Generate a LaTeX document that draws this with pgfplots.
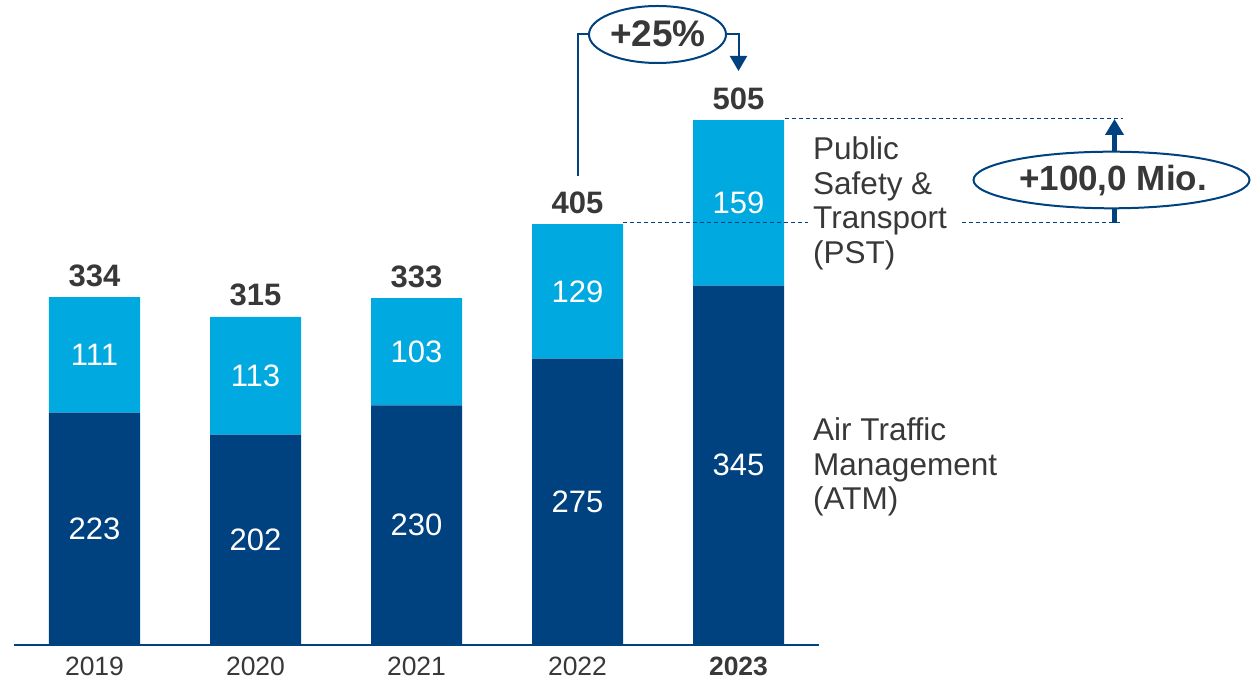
\documentclass[border=0pt]{standalone}
\usepackage{pgfplots}
\pgfplotsset{compat=1.18}
\usepackage{fontspec}
\setmainfont{Liberation Sans}
\usetikzlibrary{arrows.meta}
\definecolor{atm}{RGB}{0,65,128}
\definecolor{pst}{RGB}{0,169,224}
\definecolor{txt}{RGB}{56,56,56}
\newcommand{\fs}[1]{\fontsize{#1}{#1}\selectfont}
\begin{document}
\begin{tikzpicture}
\begin{axis}[
  at={(14pt,35pt)}, anchor=south west,
  scale only axis, width=805pt, height=645pt,
  xmin=-0.5, xmax=4.5, ymin=0, ymax=619.25,
  ybar stacked, bar width=91pt,
  hide y axis, axis x line*=bottom,
  x axis line style={draw=atm, line width=1.5pt, -},
  xtick={0,1,2,3,4}, xticklabels={2019,2020,2021,2022,\textbf{2023}},
  major tick length=0pt,
  xticklabel style={anchor=base, yshift=-31pt, font=\fs{26.5}, text=txt},
  clip=false,
]
\addplot[fill=atm, draw=none] coordinates {(0,223) (1,202) (2,230) (3,275) (4,345)};
\addplot[fill=pst, draw=none] coordinates {(0,111) (1,113) (2,103) (3,129) (4,159)};
% segment value positions
\coordinate (a0) at (axis cs:0,111.5);
\coordinate (a1) at (axis cs:1,101);
\coordinate (a2) at (axis cs:2,115);
\coordinate (a3) at (axis cs:3,137.5);
\coordinate (a4) at (axis cs:4,172.5);
\coordinate (p0) at (axis cs:0,278.5);
\coordinate (p1) at (axis cs:1,258.5);
\coordinate (p2) at (axis cs:2,281.5);
\coordinate (p3) at (axis cs:3,339.5);
\coordinate (p4) at (axis cs:4,424.5);
\coordinate (t0) at (axis cs:0,334);
\coordinate (t1) at (axis cs:1,315);
\coordinate (t2) at (axis cs:2,333);
\coordinate (t3) at (axis cs:3,404);
\coordinate (t4) at (axis cs:4,504);
\end{axis}
% segment values
\begin{scope}[every node/.style={font=\fs{31}, text=white}]
\node at (a0) {223};
\node at (a1) {202};
\node at (a2) {230};
\node at (a3) {275};
\node at (a4) {345};
\node at (p0) {111};
\node at (p1) {113};
\node at (p2) {103};
\node at (p3) {129};
\node at (p4) {159};
\end{scope}
\begin{scope}[every node/.style={anchor=base, yshift=11pt, inner sep=0pt, font=\fs{31}\bfseries, text=txt}]
\node at (t0) {334};
\node at (t1) {315};
\node at (t2) {333};
\node at (t3) {405};
\node at (t4) {505};
\end{scope}
\begin{scope}[x=1pt, y=-1pt, shift={(0pt,680pt)}]
% +25% bracket
\draw[atm, line width=2pt] (577.5,176) -- (577.5,34) -- (595,34);
\draw[atm, line width=2pt, -{Triangle[length=15pt, width=17pt]}] (720,34) -- (738.5,34) -- (738.5,71);
\draw[atm, line width=2pt, fill=white] (657.5,34.5) ellipse [x radius=68.5pt, y radius=28.5pt];
\node[font=\fs{37}\bfseries, text=txt] at (658,34) {+25\%};
% dashed lines
\draw[atm, line width=1pt, dash pattern=on 4pt off 3pt] (785,119) -- (1123,119);
\draw[atm, line width=1pt, dash pattern=on 4pt off 3pt] (623,223) -- (808,223);
\draw[atm, line width=1pt, dash pattern=on 4pt off 3pt] (962,223) -- (1123,223);
% up arrow
\draw[atm, line width=5pt, -{Triangle[length=16pt, width=18pt]}] (1114.5,223) -- (1114.5,119);
\draw[atm, line width=2pt, fill=white] (1111.5,180) ellipse [x radius=138pt, y radius=28.3pt];
\node[font=\fs{35}\bfseries, text=txt] at (1113,181) {+100,0 Mio.};
% series labels
\begin{scope}[every node/.style={anchor=base west, inner sep=0pt, font=\fs{31.5}, text=txt}]
\node at (813,159.5) {Public};
\node at (813,194.3) {Safety \&};
\node at (813,229) {Transport};
\node at (813,263.7) {(PST)};
\node at (813,441) {Air Traffic};
\node at (813,475.5) {Management};
\node at (813,510) {(ATM)};
\end{scope}
\end{scope}
\pgfresetboundingbox
\useasboundingbox (0,0) rectangle (1251pt,680pt);
\end{tikzpicture}
\end{document}
